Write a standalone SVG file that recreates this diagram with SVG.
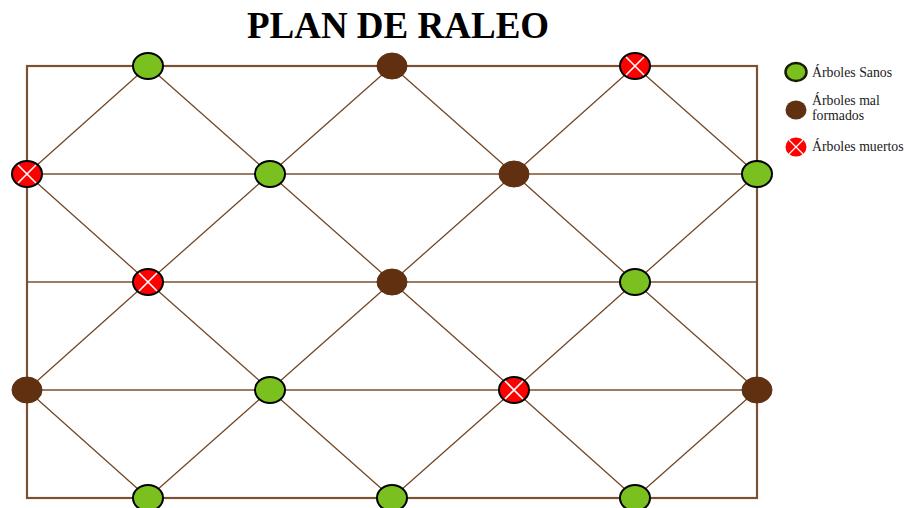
<svg xmlns="http://www.w3.org/2000/svg" width="907" height="508" viewBox="0 0 907 508">
<style>
.frame{fill:none;stroke:#7a5232;stroke-width:2.2}
.h{stroke:#7a5232;stroke-width:1.6}
.d{stroke:#744826;stroke-width:1.3}
.g{fill:#7ac120;stroke:#000;stroke-width:2}
.b{fill:#603010;stroke:#603010;stroke-width:1}
.r{fill:#ff0000;stroke:#000;stroke-width:2}
.x{stroke:#fff;stroke-width:1.6}
.t{font-family:"Liberation Serif",serif;font-size:13.8px;fill:#1a1a1a}
</style>
<defs>
<g id="red"><ellipse class="r" cx="0" cy="0" rx="15" ry="13"/><path class="x" d="M-9,-9L9,9M9,-9L-9,9"/></g>
</defs>
<rect width="907" height="508" fill="#fff"/>
<text x="398" y="38" text-anchor="middle" font-family="Liberation Serif,serif" font-weight="bold" font-size="37">PLAN DE RALEO</text>
<g id="connectors">
<rect class="frame" x="27" y="66" width="730" height="432"/>
<line class="h" x1="27" y1="174" x2="757" y2="174"/>
<line class="h" x1="27" y1="282" x2="757" y2="282"/>
<line class="h" x1="27" y1="390" x2="757" y2="390"/>
<path class="d" d="M148,66L27,174M148,66L270,174M392,66L270,174M392,66L514,174M635,66L514,174M635,66L757,174
M27,174L148,282M270,174L148,282M270,174L392,282M514,174L392,282M514,174L635,282M757,174L635,282
M148,282L27,390M148,282L270,390M392,282L270,390M392,282L514,390M635,282L514,390M635,282L757,390
M27,390L148,498M270,390L148,498M270,390L392,498M514,390L392,498M514,390L635,498M757,390L635,498"/>
</g>
<g id="n00"><ellipse class="g" cx="148" cy="66" rx="15" ry="13"/></g>
<g id="n01"><ellipse class="b" cx="392" cy="66" rx="15" ry="13"/></g>
<g id="n02"><use href="#red" x="635" y="66"/></g>
<g id="n10"><use href="#red" x="27" y="174"/></g>
<g id="n11"><ellipse class="g" cx="270" cy="174" rx="15" ry="13"/></g>
<g id="n12"><ellipse class="b" cx="514" cy="174" rx="15" ry="13"/></g>
<g id="n13"><ellipse class="g" cx="757" cy="174" rx="15" ry="13"/></g>
<g id="n20"><use href="#red" x="148" y="282"/></g>
<g id="n21"><ellipse class="b" cx="392" cy="282" rx="15" ry="13"/></g>
<g id="n22"><ellipse class="g" cx="635" cy="282" rx="15" ry="13"/></g>
<g id="n30"><ellipse class="b" cx="27" cy="390" rx="15" ry="13"/></g>
<g id="n31"><ellipse class="g" cx="270" cy="390" rx="15" ry="13"/></g>
<g id="n32"><use href="#red" x="514" y="390"/></g>
<g id="n33"><ellipse class="b" cx="757" cy="390" rx="15" ry="13"/></g>
<g id="n40"><ellipse class="g" cx="148" cy="498" rx="15" ry="13"/></g>
<g id="n41"><ellipse class="g" cx="392" cy="498" rx="15" ry="13"/></g>
<g id="n42"><ellipse class="g" cx="635" cy="498" rx="15" ry="13"/></g>
<g id="legend">
<ellipse cx="796" cy="72" rx="10.5" ry="9" fill="#7ac120" stroke="#1a1a00" stroke-width="2.5"/>
<text class="t" x="812" y="77">Árboles Sanos</text>
<ellipse cx="796" cy="110" rx="10.5" ry="9.5" fill="#603010"/>
<text class="t" x="812" y="105">Árboles mal</text>
<text class="t" x="812" y="120">formados</text>
<ellipse cx="796" cy="147" rx="10.5" ry="9.5" fill="#ff0000"/>
<path d="M789,140L803,154M803,140L789,154" stroke="#fff" stroke-width="1.2"/>
<text class="t" x="812" y="151">Árboles muertos</text>
</g>
</svg>
